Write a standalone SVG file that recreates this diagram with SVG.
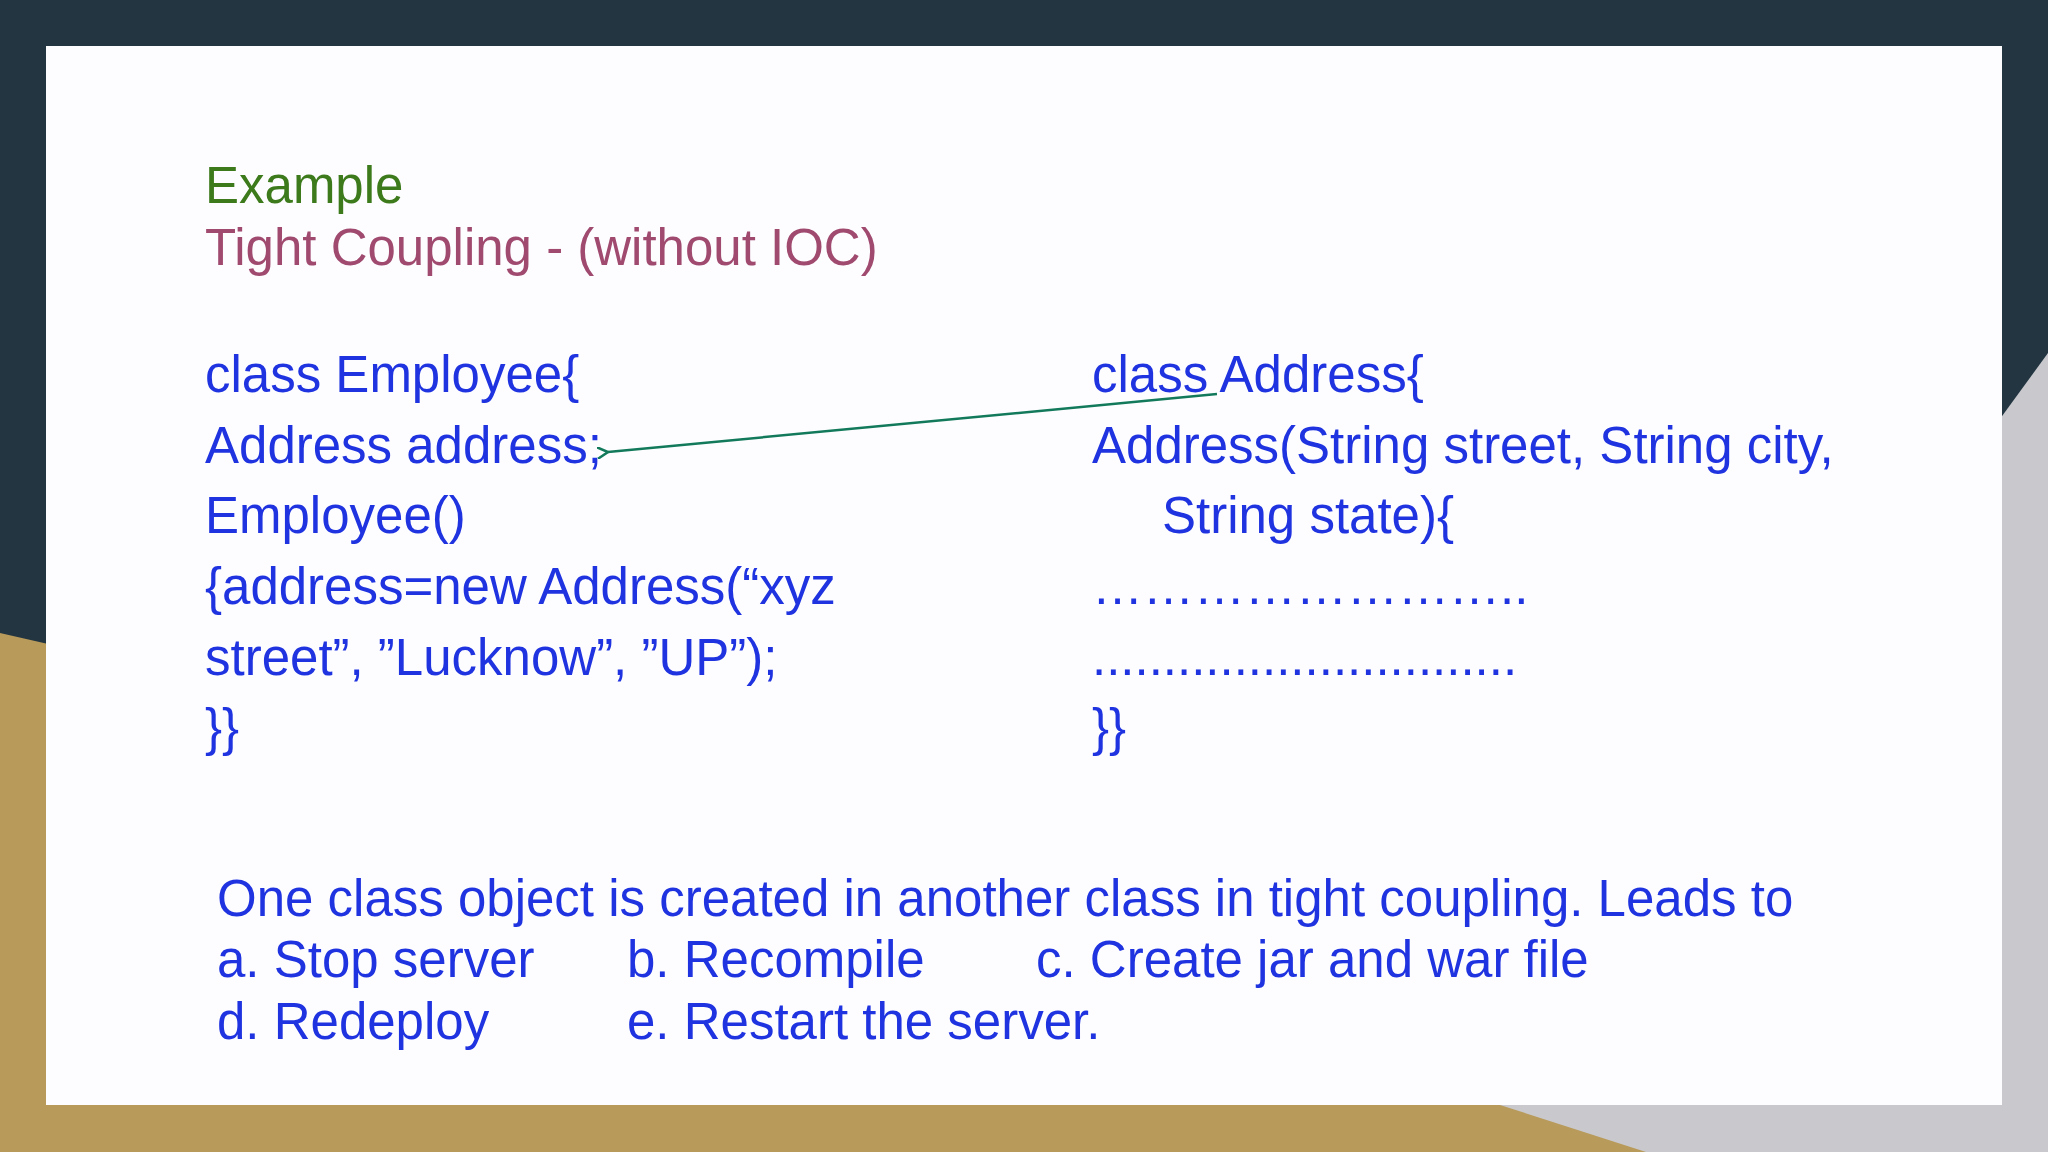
<svg xmlns="http://www.w3.org/2000/svg" width="2048" height="1152" viewBox="0 0 2048 1152">
<style>
text{font-family:"Liberation Sans",Arial,sans-serif;font-size:51px;fill:#1f33e0}
</style>
<defs>
<marker id="ah" markerWidth="12" markerHeight="12" refX="1" refY="6" orient="auto" markerUnits="userSpaceOnUse" viewBox="0 0 12 12">
<path d="M12,0 L1,6 L12,12" fill="none" stroke="#127a5a" stroke-width="2.5"/>
</marker>
</defs>
<rect width="2048" height="1152" fill="#223540"/>
<polygon points="0,633 2048,1100 2048,1152 0,1152" fill="#b89a5a"/>
<polygon points="2048,353 2048,1152 1646,1152 1500,1105" fill="#c9c9cd"/>
<rect x="46" y="46" width="1956" height="1059" fill="#fdfdff"/>
<g id="title">
<text x="205" y="203" style="fill:#3d7a1c">Example</text>
<text x="205" y="265" style="fill:#a04a70">Tight Coupling - (without IOC)</text>
</g>
<g id="employee">
<text x="205" y="392">class Employee{</text>
<text x="205" y="463">Address address;</text>
<text x="205" y="533">Employee()</text>
<text x="205" y="604">{address=new Address(“xyz</text>
<text x="205" y="675">street”, ”Lucknow”, ”UP”);</text>
<text x="205" y="745">}}</text>
</g>
<g id="address">
<text x="1092" y="392">class Address{</text>
<text x="1092" y="463">Address(String street, String city,</text>
<text x="1162" y="533">String state){</text>
<text x="1092" y="604">……………………..</text>
<text x="1092" y="675">..............................</text>
<text x="1092" y="745">}}</text>
</g>
<g id="connectors">
<line x1="1217" y1="394" x2="608" y2="452" stroke="#127a5a" stroke-width="2.5" marker-end="url(#ah)"/>
</g>
<g id="note">
<text x="217" y="916">One class object is created in another class in tight coupling. Leads to</text>
<text x="217" y="977">a. Stop server</text>
<text x="627" y="977">b. Recompile</text>
<text x="1036" y="977">c. Create jar and war file</text>
<text x="217" y="1039">d. Redeploy</text>
<text x="627" y="1039">e. Restart the server.</text>
</g>
</svg>
